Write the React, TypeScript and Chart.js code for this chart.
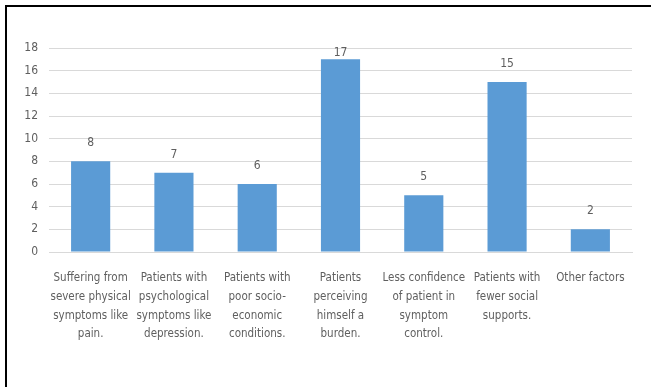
import React, { useEffect, useRef } from "react";
import { Chart, registerables } from "chart.js";

Chart.register(...registerables);

const categories: string[][] = [
  ["Suffering from", "severe physical", "symptoms like", "pain."],
  ["Patients with", "psychological", "symptoms like", "depression."],
  ["Patients with", "poor socio-", "economic", "conditions."],
  ["Patients", "perceiving", "himself a", "burden."],
  ["Less confidence", "of patient in", "symptom", "control."],
  ["Patients with", "fewer social", "supports."],
  ["Other factors"],
];

const counts: number[] = [8, 7, 6, 17, 5, 15, 2];

const yTicks: number[] = [0, 2, 4, 6, 8, 10, 12, 14, 16, 18];

const FONT = "'Liberation Sans Narrow', 'DejaVu Sans Condensed', 'Liberation Sans', sans-serif";
const TEXT = "#5f5f5f";

// Value labels above each bar, kept inside the plot area at the top.
const valueLabels = {
  id: "valueLabels",
  afterDatasetsDraw(chart: any) {
    const { ctx, chartArea } = chart;
    const meta = chart.getDatasetMeta(0);
    ctx.save();
    ctx.font = `12px ${FONT}`;
    ctx.fillStyle = TEXT;
    ctx.textAlign = "center";
    ctx.textBaseline = "middle";
    meta.data.forEach((bar: any, i: number) => {
      const y = Math.max(bar.y - 18, chartArea.top + 5);
      ctx.fillText(String(counts[i]), bar.x, y);
    });
    ctx.restore();
  },
};

export default function App() {
  const canvasRef = useRef<HTMLCanvasElement | null>(null);

  useEffect(() => {
    if (!canvasRef.current) return;
    const chart = new Chart(canvasRef.current, {
      type: "bar",
      data: {
        labels: categories,
        datasets: [
          {
            data: counts,
            backgroundColor: "#5B9BD5",
            borderWidth: 0,
            categoryPercentage: 1,
            barPercentage: 0.47,
          },
        ],
      },
      options: {
        responsive: false,
        animation: false,
        layout: { padding: { left: 0, top: 48, right: 19, bottom: 0 } },
        plugins: {
          legend: { display: false },
          tooltip: { enabled: false },
          title: { display: false },
        },
        scales: {
          x: {
            grid: { display: false, drawTicks: false },
            border: { display: true, color: "#d9d9d9", width: 1 },
            ticks: {
              color: TEXT,
              font: { family: FONT, size: 11.5, lineHeight: 1.62 },
              padding: 17,
              maxRotation: 0,
              minRotation: 0,
              autoSkip: false,
            },
            afterFit(scale: any) {
              scale.height = 135;
            },
          },
          y: {
            min: 0,
            max: 18,
            afterBuildTicks(scale: any) {
              scale.ticks = yTicks.map((v) => ({ value: v }));
            },
            grid: { color: "#d9d9d9", lineWidth: 1, drawTicks: false },
            border: { display: false },
            ticks: {
              color: TEXT,
              font: { family: FONT, size: 12 },
              padding: 11,
            },
            afterFit(scale: any) {
              scale.width = 49;
            },
          },
        },
      },
      plugins: [valueLabels],
    });
    return () => chart.destroy();
  }, []);

  return (
    <div
      style={{
        position: "fixed",
        left: 0,
        top: 0,
        width: 651,
        height: 387,
        background: "#ffffff",
        overflow: "hidden",
      }}
    >
      <canvas ref={canvasRef} width={651} height={387} style={{ display: "block" }} />
      <div
        style={{
          position: "absolute",
          left: 5,
          top: 5,
          width: 646,
          height: 382,
          boxSizing: "border-box",
          borderTop: "2px solid #000",
          borderLeft: "2px solid #000",
          pointerEvents: "none",
        }}
      />
    </div>
  );
}
